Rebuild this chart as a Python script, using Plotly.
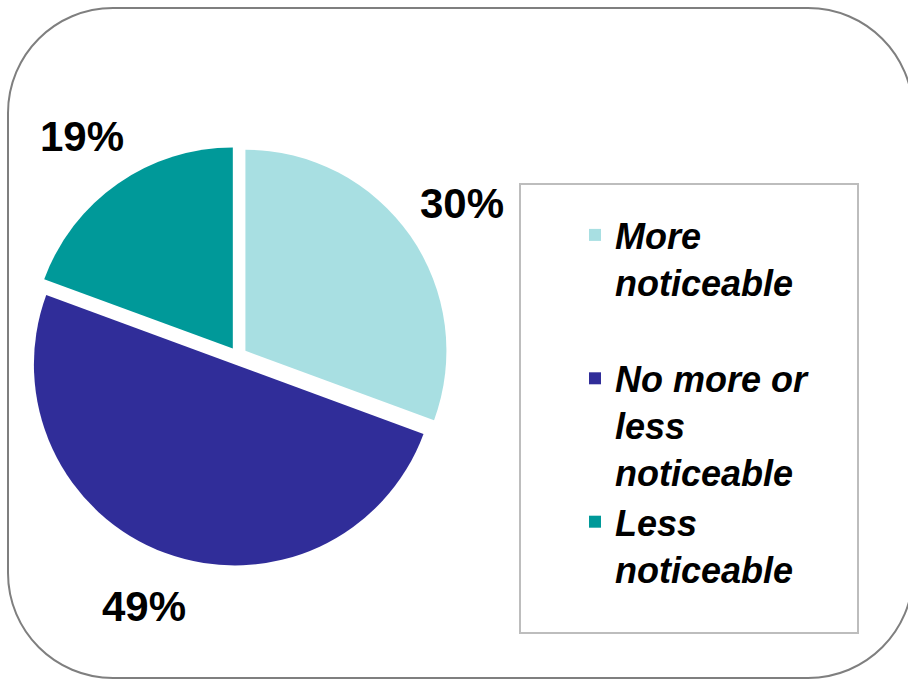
import math
import plotly.graph_objects as go

# ---- data ----
labels = ["More<br>noticeable<br> ", "No more or<br>less<br>noticeable", "Less<br>noticeable"]
values = [30, 49, 19]
colors = ["#A8DFE2", "#302D99", "#009999"]

W, H = 908, 681

def px(x):
    return x / W

def py(y):
    return 1 - y / H

# pie geometry (pixels)
cx, cy, r, pull = 238, 356, 201, 0.045
side = 2 * r * (1 + pull)

fig = go.Figure()
fig.add_trace(go.Pie(
    labels=labels,
    values=values,
    marker=dict(colors=colors, line=dict(width=0)),
    sort=False,
    direction="clockwise",
    rotation=0,
    pull=[pull] * len(values),
    textinfo="none",
    hoverinfo="label+percent",
    domain=dict(x=[px(cx - side / 2), px(cx + side / 2)],
                y=[py(cy + side / 2), py(cy - side / 2)]),
))

# percentage labels placed radially outside each slice
annotations = []
total = sum(values)
cum = 0
for v in values:
    mid = (cum + v / 2) / total * 2 * math.pi
    cum += v
    lx = cx + 1.36 * r * math.sin(mid)
    ly = cy - 1.33 * r * math.cos(mid)
    annotations.append(dict(
        x=px(lx), y=py(ly), xref="paper", yref="paper",
        text=f"{v}%", showarrow=False,
        font=dict(family="Liberation Sans, Arial", size=42, color="black", weight="bold"),
        xanchor="center", yanchor="middle",
    ))

# rounded frame
def rounded_rect(x0, y0, x1, y1, rad):
    k = 0.5523 * rad
    pts = [
        f"M {px(x0 + rad)},{py(y0)}",
        f"L {px(x1 - rad)},{py(y0)}",
        f"C {px(x1 - rad + k)},{py(y0)} {px(x1)},{py(y0 + rad - k)} {px(x1)},{py(y0 + rad)}",
        f"L {px(x1)},{py(y1 - rad)}",
        f"C {px(x1)},{py(y1 - rad + k)} {px(x1 - rad + k)},{py(y1)} {px(x1 - rad)},{py(y1)}",
        f"L {px(x0 + rad)},{py(y1)}",
        f"C {px(x0 + rad - k)},{py(y1)} {px(x0)},{py(y1 - rad + k)} {px(x0)},{py(y1 - rad)}",
        f"L {px(x0)},{py(y0 + rad)}",
        f"C {px(x0)},{py(y0 + rad - k)} {px(x0 + rad - k)},{py(y0)} {px(x0 + rad)},{py(y0)} Z",
    ]
    return " ".join(pts)

shapes = [
    dict(type="path", xref="paper", yref="paper",
         path=rounded_rect(8, 8, 913, 678, 105),
         line=dict(color="#7F7F7F", width=2)),
    dict(type="rect", xref="paper", yref="paper",
         x0=px(520), x1=px(858), y0=py(633), y1=py(184),
         line=dict(color="#BDBDBD", width=2)),
]

fig.update_layout(
    width=W, height=H,
    margin=dict(l=0, r=0, t=0, b=0),
    paper_bgcolor="white",
    plot_bgcolor="white",
    showlegend=True,
    legend=dict(
        x=px(575), y=py(205), xanchor="left", yanchor="top",
        font=dict(family="Liberation Sans, Arial", size=36, color="black",
                  weight="bold", style="italic"),
        bgcolor="rgba(0,0,0,0)", borderwidth=0,
        valign="top", traceorder="normal",
    ),
    annotations=annotations,
    shapes=shapes,
)

fig.write_html("out.html")
